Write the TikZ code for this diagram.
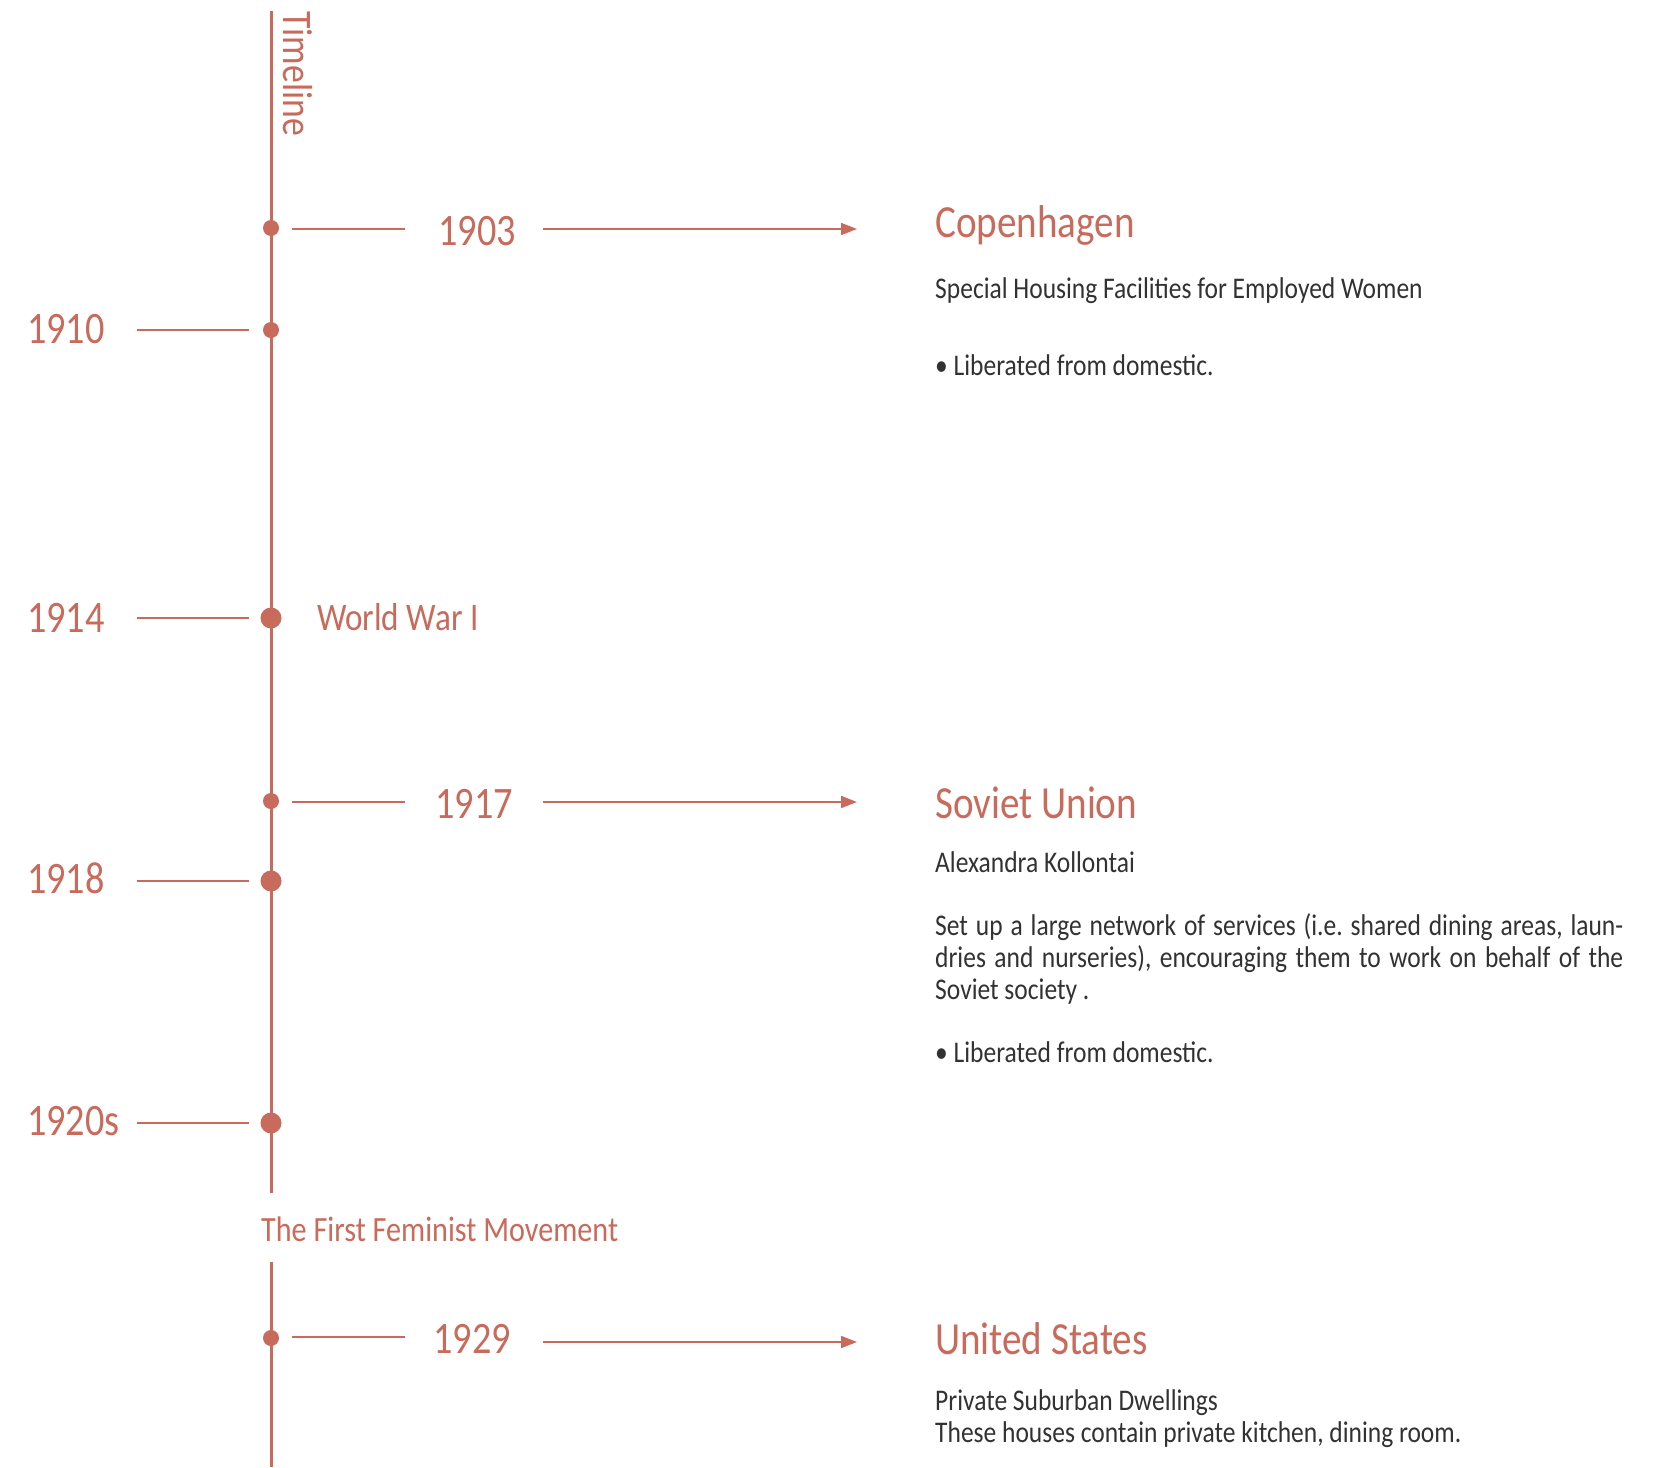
\documentclass[tikz,border=0pt]{standalone}
\usepackage{fontspec}
\setmainfont{Carlito}[FakeStretch=0.85]
\usetikzlibrary{arrows.meta}
\definecolor{rust}{RGB}{200,107,92}
\definecolor{ink}{RGB}{50,50,50}
\frenchspacing
\begin{document}
\begin{tikzpicture}[x=1pt,y=-1pt,
  spine/.style={draw=rust,line width=3pt},
  tick/.style={draw=rust,line width=1.8pt},
  arr/.style={draw=rust,line width=1.8pt,-{Triangle[length=16pt,width=12pt]}},
  bigdot/.style={circle,fill=rust,inner sep=0pt,minimum size=21pt},
  smalldot/.style={circle,fill=rust,inner sep=0pt,minimum size=16pt},
  yr/.style={text=rust,inner sep=0pt,font=\fontsize{45}{50}\selectfont},
  evt/.style={text=rust,inner sep=0pt,anchor=base west,font=\fontsize{39}{44}\selectfont},
  head/.style={text=rust,inner sep=0pt,anchor=base west,font=\fontsize{46}{50}\selectfont},
  body/.style={text=ink,inner sep=0pt,anchor=base west,font=\fontsize{30}{32}\selectfont},
  ]
\useasboundingbox[fill=white] (0,0) rectangle (1670,1467);

% spine
\coordinate (top) at (271,11);
\coordinate (brk1) at (271,1193);
\coordinate (brk2) at (271,1262);
\coordinate (bot) at (271,1467);
\draw[spine] (top) -- (brk1);
\draw[spine] (brk2) -- (bot);

\node[text=rust,inner sep=0pt,anchor=base west,rotate=-90,font=\fontsize{42}{44}\selectfont] (tl) at (283,11) {Timeline};

% dots
\node[smalldot] (d1903) at (271,228) {};
\node[smalldot] (d1910) at (271,330) {};
\node[bigdot]   (d1914) at (271,618) {};
\node[smalldot] (d1917) at (271,801) {};
\node[bigdot]   (d1918) at (271,881) {};
\node[bigdot]   (d1920) at (271,1123) {};
\node[smalldot] (d1929) at (271,1338) {};

% left years
\node[yr,anchor=base west] (y1910) at (27,343) {1910};
\node[yr,anchor=base west] (y1914) at (27,632) {1914};
\node[yr,anchor=base west] (y1918) at (27,893) {1918};
\node[yr,anchor=base west] (y1920) at (27,1135) {1920s};
\coordinate (a1910) at (137,330); \coordinate (b1910) at (249,330);
\coordinate (a1914) at (137,618); \coordinate (b1914) at (249,618);
\coordinate (a1918) at (137,881); \coordinate (b1918) at (249,881);
\coordinate (a1920) at (137,1123); \coordinate (b1920) at (249,1123);
\draw[tick] (a1910) -- (b1910);
\draw[tick] (a1914) -- (b1914);
\draw[tick] (a1918) -- (b1918);
\draw[tick] (a1920) -- (b1920);

% events on spine
\node[evt] (ww1) at (317,630) {World War I};
\node[evt,font=\fontsize{35.5}{40}\selectfont] (fem) at (261,1241) {The First Feminist Movement};

% right years
\node[yr,anchor=base] (y1903) at (477,245) {1903};
\node[yr,anchor=base] (y1917) at (474,818) {1917};
\node[yr,anchor=base] (y1929) at (472,1353) {1929};
\coordinate (p1903) at (292,229); \coordinate (q1903) at (405,229);
\coordinate (p1917) at (292,802); \coordinate (q1917) at (405,802);
\coordinate (p1929) at (292,1337); \coordinate (q1929) at (405,1337);
\draw[tick] (p1903) -- (q1903);
\draw[tick] (p1917) -- (q1917);
\draw[tick] (p1929) -- (q1929);
\coordinate (r1903) at (543,229); \coordinate (s1903) at (857,229);
\coordinate (r1917) at (543,802); \coordinate (s1917) at (857,802);
\coordinate (r1929) at (543,1342); \coordinate (s1929) at (857,1342);
\draw[arr] (r1903) -- (s1903);
\draw[arr] (r1917) -- (s1917);
\draw[arr] (r1929) -- (s1929);

% Copenhagen
\node[head] (hcop) at (935,237) {Copenhagen};
\node[body] (bcop1) at (935,298) {Special Housing Facilities for Employed Women};
\node[body] (bcop2) at (935,375) {\textbullet\ Liberated from domestic.};

% Soviet Union
\node[head] (hsov) at (935,818) {Soviet Union};
\node[body] (bsov1) at (935,872) {Alexandra Kollontai};
\node[body] (bsov2) at (935,935) {\makebox[688pt][s]{Set up a large network of services (i.e. shared dining areas, laun-}};
\node[body] (bsov3) at (935,967) {\makebox[688pt][s]{dries and nurseries), encouraging them to work on behalf of the}};
\node[body] (bsov4) at (935,999) {Soviet society .};
\node[body] (bsov5) at (935,1062) {\textbullet\ Liberated from domestic.};

% United States
\node[head] (hus) at (935,1354) {United States};
\node[body] (bus1) at (935,1410) {Private Suburban Dwellings};
\node[body] (bus2) at (935,1442) {These houses contain private kitchen, dining room.};
\end{tikzpicture}
\end{document}
